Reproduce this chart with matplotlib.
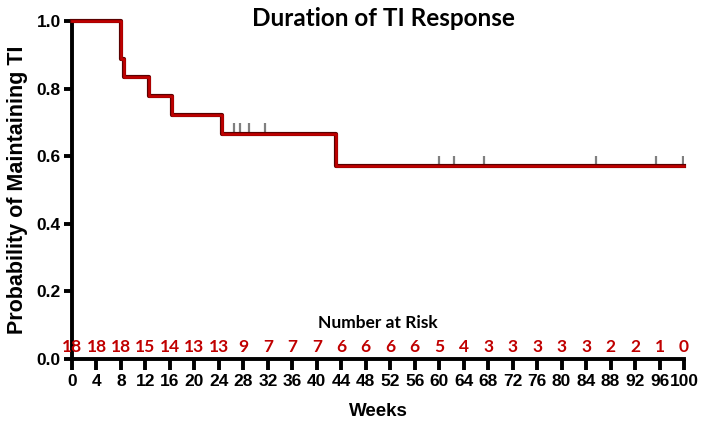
import matplotlib.pyplot as plt
import numpy as np

# step curve (weeks, survival after the step)
step_weeks = [0, 8.0, 8.5, 12.5, 16.3, 24.5, 43.1, 100]
step_prob = [1.0, 0.889, 0.833, 0.778, 0.722, 0.667, 0.571, 0.571]

# censored observations
censor_weeks = [26.5, 27.5, 28.9, 31.5, 60.0, 62.4, 67.4, 85.7, 95.5, 99.9]
censor_prob = [0.667, 0.667, 0.667, 0.667, 0.571, 0.571, 0.571, 0.571, 0.571, 0.571]

risk_weeks = list(range(0, 101, 4))
risk_counts = [18, 18, 18, 15, 14, 13, 13, 9, 7, 7, 7, 6, 6, 6, 6, 5, 4, 3, 3, 3, 3, 3, 2, 2, 1, 0]

red = "#c00000"
tickfont = "Liberation Sans"
headfont = "Lato"

fig = plt.figure(figsize=(7.09, 4.30), dpi=100)
ax = fig.add_axes([72 / 709, 71 / 430, 612 / 709, 338 / 430])

# dark outline then red line
ax.step(step_weeks, step_prob, where="post", color="#5a0000", lw=3.0, clip_on=False, zorder=3)
ax.step(step_weeks, step_prob, where="post", color=red, lw=1.9, clip_on=False, zorder=4)

ax.vlines(censor_weeks, np.array(censor_prob), np.array(censor_prob) + 0.03,
          color="#808080", lw=1.6, zorder=2)

for w, n in zip(risk_weeks, risk_counts):
    ax.text(w, 0.036, str(n), color=red, fontsize=12.5, fontweight="bold",
            family=headfont, ha="center", va="center")

ax.text(50, 0.106, "Number at Risk", fontsize=12.5, fontweight="bold",
        family=headfont, ha="center", va="center")

ax.set_xlim(0, 100)
ax.set_ylim(0, 1.0)
ax.set_xticks(risk_weeks)
ax.set_yticks([0.0, 0.2, 0.4, 0.6, 0.8, 1.0])
ax.set_yticklabels(["0.0", "0.2", "0.4", "0.6", "0.8", "1.0"])

for s in ["top", "right"]:
    ax.spines[s].set_visible(False)
for s in ["left", "bottom"]:
    ax.spines[s].set_linewidth(2.8)

ax.tick_params(axis="x", length=8, width=2.8, pad=3)
ax.tick_params(axis="y", length=6, width=2.8, pad=2)
for lab in ax.get_xticklabels() + ax.get_yticklabels():
    lab.set_family(tickfont)
    lab.set_fontweight("bold")
    lab.set_fontsize(12.5)

ax.set_xlabel("Weeks", family=tickfont, fontweight="bold", fontsize=13.5, labelpad=10)
ax.set_ylabel("Probability of Maintaining TI", family=tickfont, fontweight="bold",
              fontsize=15.5, labelpad=6)

fig.text(383 / 709, 1 - 18 / 430, "Duration of TI Response", family=headfont,
         fontweight="bold", fontsize=17.5, ha="center", va="center")

fig.savefig("out.png", dpi=100)
